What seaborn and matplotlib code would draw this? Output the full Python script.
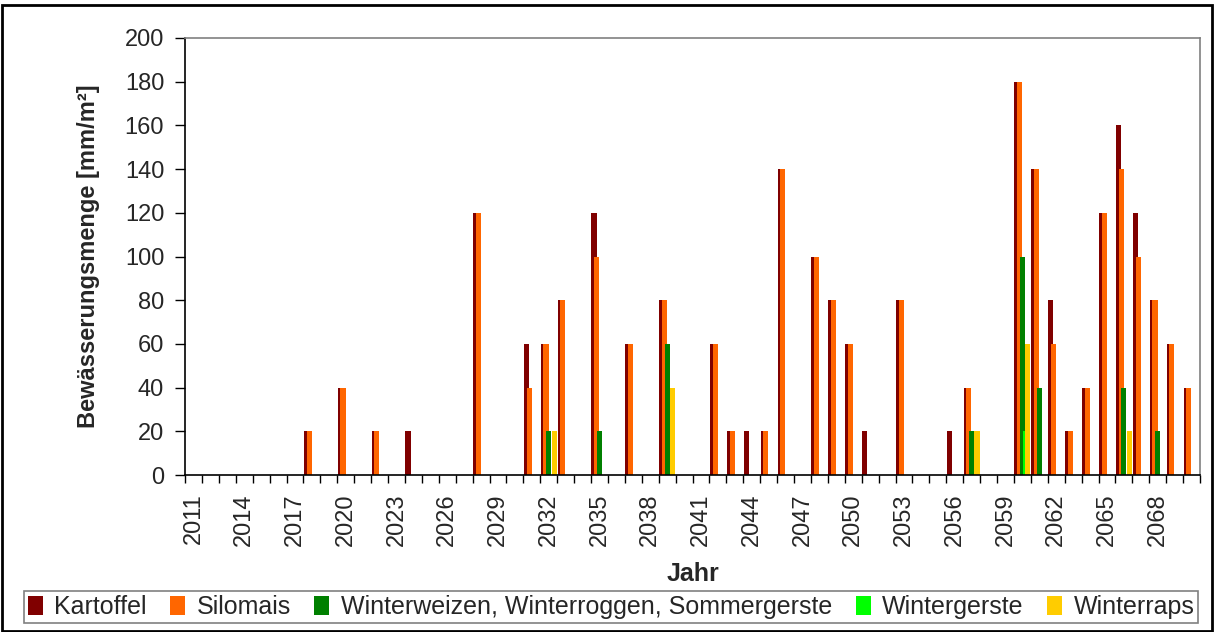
import matplotlib
matplotlib.use("Agg")
import matplotlib.pyplot as plt
import seaborn as sns
import pandas as pd
from matplotlib.patches import Rectangle

# irrigation amounts per crop and year
years = list(range(2011, 2071))

kartoffel = [0, 0, 0, 0, 0, 0, 0, 20, 0, 40,
             0, 20, 0, 20, 0, 0, 0, 120, 0, 0,
             60, 60, 80, 0, 120, 0, 60, 0, 80, 0,
             0, 60, 20, 20, 20, 140, 0, 100, 80, 60,
             20, 0, 80, 0, 0, 20, 40, 0, 0, 180,
             140, 80, 20, 40, 120, 160, 120, 80, 60, 40]

silomais = [0, 0, 0, 0, 0, 0, 0, 20, 0, 40,
            0, 20, 0, 0, 0, 0, 0, 120, 0, 0,
            40, 60, 80, 0, 100, 0, 60, 0, 80, 0,
            0, 60, 20, 0, 20, 140, 0, 100, 80, 60,
            0, 0, 80, 0, 0, 0, 40, 0, 0, 180,
            140, 60, 20, 40, 120, 140, 100, 80, 60, 40]

winterweizen = [0, 0, 0, 0, 0, 0, 0, 0, 0, 0,
                0, 0, 0, 0, 0, 0, 0, 0, 0, 0,
                0, 20, 0, 0, 20, 0, 0, 0, 60, 0,
                0, 0, 0, 0, 0, 0, 0, 0, 0, 0,
                0, 0, 0, 0, 0, 0, 20, 0, 0, 100,
                40, 0, 0, 0, 0, 40, 0, 20, 0, 0]

wintergerste = [0, 0, 0, 0, 0, 0, 0, 0, 0, 0,
                0, 0, 0, 0, 0, 0, 0, 0, 0, 0,
                0, 0, 0, 0, 0, 0, 0, 0, 0, 0,
                0, 0, 0, 0, 0, 0, 0, 0, 0, 0,
                0, 0, 0, 0, 0, 0, 0, 0, 0, 20,
                0, 0, 0, 0, 0, 0, 0, 0, 0, 0]

winterraps = [0, 0, 0, 0, 0, 0, 0, 0, 0, 0,
              0, 0, 0, 0, 0, 0, 0, 0, 0, 0,
              0, 20, 0, 0, 0, 0, 0, 0, 40, 0,
              0, 0, 0, 0, 0, 0, 0, 0, 0, 0,
              0, 0, 0, 0, 0, 0, 20, 0, 0, 60,
              0, 0, 0, 0, 0, 20, 0, 0, 0, 0]

crops = ["Kartoffel", "Silomais", "Winterweizen, Winterroggen, Sommergerste",
         "Wintergerste", "Winterraps"]
colors = ["#800000", "#FF6600", "#008000", "#00FF00", "#FFCC00"]

series = [kartoffel, silomais, winterweizen, wintergerste, winterraps]
frames = []
for crop, vals in zip(crops, series):
    frames.append(pd.DataFrame({"Jahr": years, "Menge": vals, "Kultur": crop}))
df = pd.concat(frames, ignore_index=True)

sns.set_theme(style="white")
plt.rcParams["font.family"] = ["Liberation Sans", "DejaVu Sans"]

fig = plt.figure(figsize=(12.14, 6.32), dpi=100)
ax = fig.add_axes([185 / 1214, 1 - 475 / 632, 1015 / 1214, 437 / 632])

# overlapping grouped bars like the Excel original (negative gap widens dodged bars)
sns.barplot(data=df, x="Jahr", y="Menge", hue="Kultur", order=years,
            hue_order=crops, palette=colors, saturation=1, errorbar=None,
            width=0.8, gap=-0.9, linewidth=0, ax=ax, legend=True)

ax.set_xlim(-0.5, len(years) - 0.5)
ax.set_ylim(0, 200)
ax.set_yticks(range(0, 201, 20))
ax.tick_params(axis="y", labelsize=17, length=7, width=1, direction="out",
               left=True, color="black", pad=8)

# tick marks on category boundaries, labels every third year
ax.set_xticks([i - 0.5 for i in range(len(years) + 1)])
ax.set_xticklabels([])
ax.set_xticks(list(range(0, len(years), 3)), minor=True)
ax.set_xticklabels([str(y) for y in years[::3]], minor=True, rotation=90)
ax.tick_params(axis="x", which="major", length=6, width=1, direction="out",
               bottom=True, color="black")
ax.tick_params(axis="x", which="minor", length=0, labelsize=17, pad=13)

for side in ["top", "right"]:
    ax.spines[side].set_color("#808080")
    ax.spines[side].set_linewidth(1.2)
for side in ["left", "bottom"]:
    ax.spines[side].set_color("black")
    ax.spines[side].set_linewidth(1.2)

ax.set_ylabel("Bewässerungsmenge [mm/m²]", fontsize=17, fontweight="bold")
ax.yaxis.set_label_coords(-0.084, 0.5)
ax.set_xlabel("Jahr", fontsize=18, fontweight="bold")
ax.xaxis.set_label_coords(0.5, -0.198)

handles, labels = ax.get_legend_handles_labels()
ax.get_legend().remove()
leg = fig.legend(handles, labels, loc="center", ncol=5,
                 bbox_to_anchor=(611 / 1214, 1 - 607 / 632),
                 fontsize=18, frameon=True, fancybox=False, handlelength=0.6,
                 handleheight=0.8, handletextpad=0.45, borderaxespad=0,
                 borderpad=0.15, columnspacing=0.95)
leg.get_frame().set_edgecolor("#606060")
leg.get_frame().set_linewidth(1.2)

# outer chart border
fig.patches.append(Rectangle((0.002, 0.002), 0.996, 0.99, transform=fig.transFigure,
                             fill=False, edgecolor="black", linewidth=2))

fig.savefig("out.png", dpi=100)
